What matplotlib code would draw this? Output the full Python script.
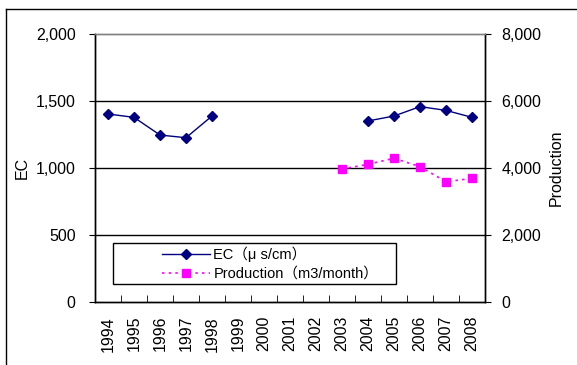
import numpy as np
import matplotlib.pyplot as plt
from matplotlib.lines import Line2D
from matplotlib.patches import Rectangle

years = ['1994', '1995', '1996', '1997', '1998', '1999', '2000', '2001',
         '2002', '2003', '2004', '2005', '2006', '2007', '2008']
ec = [1403, 1378, 1246, 1226, 1388, None, None, None,
      None, None, 1351, 1388, 1458, 1430, 1378]
production = [None, None, None, None, None, None, None, None,
              None, 3970, 4110, 4290, 4040, 3590, 3690]

ec = np.array([np.nan if v is None else v for v in ec], dtype=float)
production = np.array([np.nan if v is None else v for v in production], dtype=float)
x = np.arange(len(years))

plt.rcParams['font.family'] = ['Liberation Sans', 'Noto Sans CJK JP', 'DejaVu Sans']

W, H = 577, 365
fig = plt.figure(figsize=(W / 100, H / 100), dpi=100)
ax = fig.add_axes([95 / W, 1 - 302 / H, 390 / W, 268 / H])
ax2 = ax.twinx()

# EC on left axis
ln1, = ax.plot(x, ec, color='#000080', marker='D', markersize=5.5, linewidth=1,
               label='EC\uff08\u03bc s/cm\uff09')
# production on right axis
ln2, = ax2.plot(x, production, color='#ff00ff', marker='s', markersize=6,
                linewidth=1.2, linestyle=(0, (1.5, 2.5)),
                label='Production\uff08m3/month\uff09')

ax.set_xlim(-0.5, len(years) - 0.5)
ax.set_ylim(0, 2000)
ax2.set_ylim(0, 8000)

ax.set_yticks([0, 500, 1000, 1500, 2000])
ax.set_yticklabels(['0', '500', '1,000', '1,500', '2,000'], fontsize=11.5)
ax2.set_yticks([0, 2000, 4000, 6000, 8000])
ax2.set_yticklabels(['0', '2,000', '4,000', '6,000', '8,000'], fontsize=11.5)

for v in [500, 1000, 1500]:
    ax.axhline(v, color='black', linewidth=1, zorder=0)

ax.set_xticks(x)
ax.set_xticklabels(years, rotation=90, fontsize=11.5)
ax.tick_params(axis='x', which='major', length=0, pad=10)
ax.set_xticks(np.arange(-0.5, len(years), 1), minor=True)
ax.tick_params(axis='x', which='minor', direction='in', length=5)
ax.tick_params(axis='y', direction='out', length=4, pad=10)
ax2.tick_params(axis='y', direction='out', length=4, pad=8)

for a in (ax, ax2):
    for s in a.spines.values():
        s.set_color('black')
        s.set_linewidth(1)
    a.spines['top'].set_color('#808080')

ax.set_ylabel('EC', fontsize=11.5, labelpad=4)
ax2.set_ylabel('Production', fontsize=11.5, labelpad=5)

# legend box drawn separately so the entries can sit right of centre like the original
box = Rectangle((113 / W, 1 - 284 / H), 283 / W, 41 / H, transform=fig.transFigure,
                facecolor='white', edgecolor='black', linewidth=1, zorder=5)
fig.add_artist(box)
leg = fig.legend([ln1, ln2], [ln1.get_label(), ln2.get_label()],
                 loc='center left', bbox_to_anchor=(155 / W, 1 - 263.5 / H),
                 fontsize=10.5, frameon=False, borderpad=0, handlelength=3.3,
                 handletextpad=0.2, labelspacing=0.35)
leg.set_zorder(6)

# outer chart border
fig.add_artist(Line2D([6 / W, 1], [1 - 9 / H, 1 - 9 / H], color='black', linewidth=1))
fig.add_artist(Line2D([6 / W, 6 / W], [0, 1 - 9 / H], color='black', linewidth=1))

fig.savefig('out.png', dpi=100)
